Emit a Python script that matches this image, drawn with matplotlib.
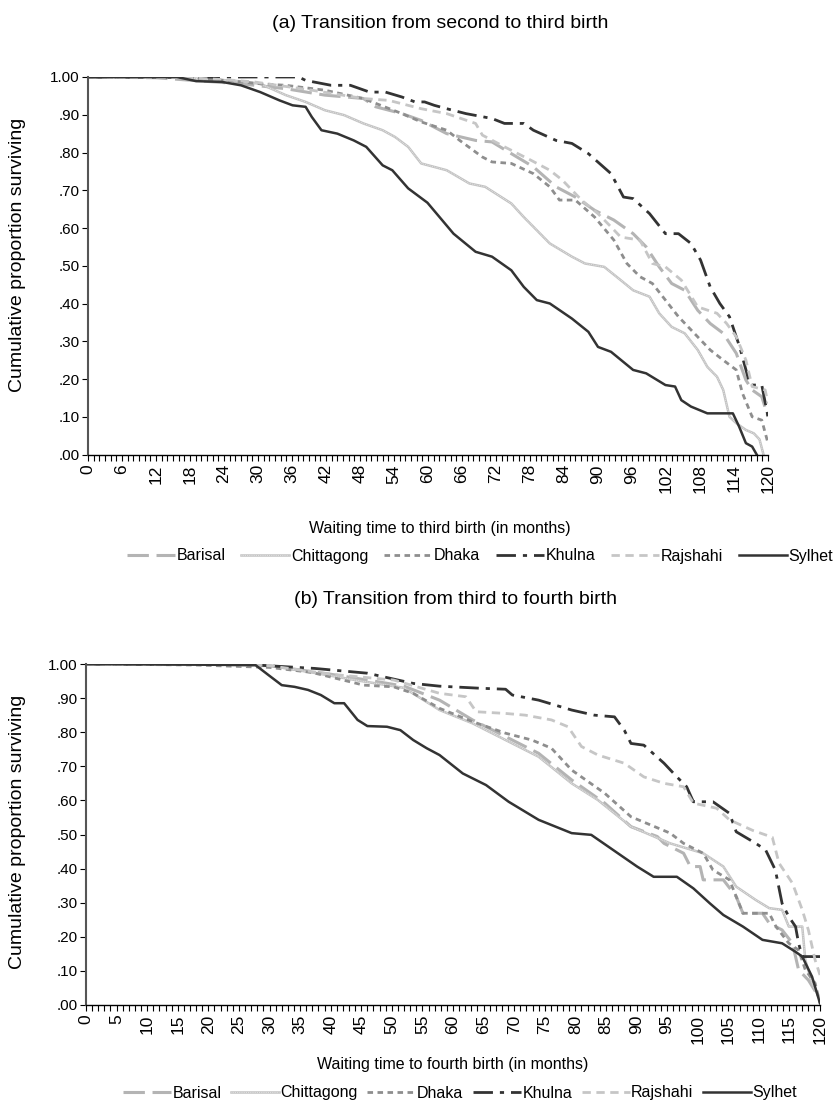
import numpy as np
import matplotlib.pyplot as plt
from matplotlib.ticker import MultipleLocator, FuncFormatter

plt.rcParams['font.family'] = ['Liberation Sans', 'DejaVu Sans']

regions = ['Barisal', 'Chittagong', 'Dhaka', 'Khulna', 'Rajshahi', 'Sylhet']

# (a) second -> third birth, months and survival
a_barisal_m = [0, 12, 18.5, 27, 34.9, 41.8, 48.6, 50.8, 55.4, 58.8, 63.3, 68.4, 71.3, 74.7, 78.6, 82.6, 86.0, 89.4, 92.8,
               96.2, 98.5, 100.8, 103.0, 105.3, 107.6, 109.8, 112.1, 114.4, 116.1, 117.2, 118.9, 120]
a_barisal_v = [1, .998, .991, .982, .969, .952, .943, .921, .903, .885, .850, .832, .828, .797, .762, .709, .682, .647, .621,
               .585, .550, .497, .453, .435, .382, .347, .321, .268, .197, .171, .153, .10]
a_chitt_m = [0, 15, 20, 26, 30.4, 34.9, 38.4, 41.8, 45.2, 48.6, 52.0, 54.2, 56.5, 58.8, 63.3, 67.3, 70.1, 74.7, 76.9, 81.5,
             85.4, 87.7, 91.1, 94.0, 96.2, 99.1, 100.8, 103.0, 105.3, 107.6, 109.3, 111.0, 112.1, 113.2, 114.4, 116.1, 117.5, 118.5, 119.2]
a_chitt_v = [1, 1, .995, .99, .982, .952, .934, .912, .899, .877, .859, .841, .815, .771, .753, .718, .709, .665, .629, .559,
             .524, .506, .497, .462, .435, .418, .374, .338, .321, .277, .232, .206, .171, .100, .083, .065, .056, .04, 0]
a_dhaka_m = [0, 18, 25, 30.4, 34.9, 41.8, 48.6, 50.8, 55.4, 58.8, 63.3, 65.6, 69.6, 71.3, 74.7, 78.6, 81.5, 83.2, 86.0, 89.4,
             92.8, 95.1, 97.4, 99.6, 101.9, 104.2, 107.0, 109.8, 112.1, 114.4, 115.5, 117.2, 118.9, 120]
a_dhaka_v = [1, .998, .99, .982, .978, .965, .943, .930, .903, .881, .859, .832, .788, .775, .771, .744, .709, .674, .674, .629,
             .568, .506, .471, .453, .409, .365, .321, .277, .250, .224, .162, .100, .091, .03]
a_khulna_m = [0, 37.2, 38.4, 42.9, 46.3, 49.7, 52.5, 55.4, 57.7, 59.4, 61.1, 63.3, 66.7, 71.3, 73.5, 76.9, 78.6, 82.6, 85.4,
              88.3, 92.3, 94.5, 96.2, 99.1, 101.9, 104.2, 106.4, 108.1, 109.8, 111.5, 113.2, 115.0, 116.6, 117.0, 118.9, 120]
a_khulna_v = [1, 1, .991, .978, .978, .960, .960, .947, .934, .934, .925, .916, .903, .890, .877, .877, .859, .832, .824,
              .797, .744, .682, .678, .638, .585, .585, .559, .515, .444, .400, .365, .285, .197, .184, .184, .10]
a_rajsh_m = [0, 18, 25, 29.3, 39.5, 48.6, 53.1, 58.8, 63.3, 68.4, 69.6, 73.5, 78.1, 81.5, 83.7, 87.1, 90.0, 92.3, 94.0,
             97.4, 99.6, 101.9, 104.7, 107.6, 111.0, 112.7, 114.4, 116.1, 117.2, 119.5, 120]
a_rajsh_v = [1, .998, .992, .987, .965, .943, .938, .916, .903, .877, .846, .815, .780, .753, .727, .674, .638, .603, .576,
             .568, .506, .497, .462, .391, .374, .347, .312, .250, .180, .171, .135]
a_sylhet_m = [0, 15.7, 19.1, 23.6, 27.0, 30.4, 33.8, 36.1, 38.4, 39.5, 41.2, 44.0, 46.9, 49.1, 52.0, 53.7, 56.5, 59.9, 64.5,
              68.4, 71.3, 74.7, 76.9, 79.2, 81.5, 85.4, 88.3, 90.0, 92.3, 96.2, 98.5, 101.9, 103.6, 104.7, 106.4, 109.3,
              113.8, 114.9, 116.1, 117.2, 118.0]
a_sylhet_v = [1, 1, .989, .987, .978, .960, .938, .925, .921, .894, .859, .850, .832, .815, .766, .753, .705, .667, .585,
              .537, .524, .488, .444, .409, .400, .360, .325, .285, .272, .224, .215, .184, .180, .144, .127, .109,
              .109, .074, .030, .021, 0]

# (b) third -> fourth birth
b_barisal_m = [0, 18, 30, 40, 47, 52, 57.8, 63.2, 68.6, 74.0, 79.4, 84.8, 89.1, 93.4, 94.5, 97.7, 98.8, 100.4, 100.9, 104.2,
               106.3, 107.4, 110.6, 111.7, 113.8, 115.5, 116.5, 118.1, 119.8]
b_barisal_v = [1, 1, .995, .97, .95, .935, .894, .836, .787, .738, .660, .592, .523, .494, .474, .445, .406, .406, .367, .367,
               .318, .269, .269, .240, .220, .181, .103, .073, .024]
b_chitt_m = [0, 20, 30, 37, 45, 52, 57.8, 63.2, 68.6, 74.0, 79.4, 83.7, 89.1, 95.5, 100.9, 104.2, 106.3, 109.5, 111.7, 113.8,
             114.9, 117.1, 117.6, 118.7, 119.8]
b_chitt_v = [1, 1, .995, .975, .95, .93, .865, .826, .777, .728, .650, .601, .523, .474, .445, .406, .347, .308, .284, .279,
             .230, .230, .132, .064, .024]
b_dhaka_m = [0, 18, 30, 37, 45.4, 50.3, 53.5, 57.8, 63.2, 68.6, 72.9, 76.1, 79.4, 84.8, 89.1, 95.5, 97.7, 100.9, 102.5, 105.2,
             107.4, 111.7, 112.8, 114.9, 116.5, 117.6, 119.2, 120]
b_dhaka_v = [1, .997, .99, .975, .938, .933, .914, .870, .831, .797, .777, .753, .689, .621, .552, .504, .474, .445, .396, .367,
             .269, .269, .230, .181, .161, .103, .064, .005]
b_khulna_m = [0, 25, 37.4, 46.0, 53.5, 57.8, 64.3, 68.6, 69.7, 74.0, 79.4, 83.1, 86.4, 88.0, 89.1, 91.2, 94.5, 96.6, 98.2,
              99.3, 102.5, 105.2, 106.3, 109.5, 111.1, 112.7, 113.8, 114.9, 116.0, 116.5, 117.1, 120]
b_khulna_v = [1, 1, .987, .973, .943, .935, .929, .926, .909, .894, .865, .850, .845, .806, .767, .762, .709, .669, .640,
              .596, .596, .562, .508, .474, .455, .396, .298, .259, .230, .181, .142, .142]
b_rajsh_m = [0, 20, 30, 40, 50.3, 57.8, 62.1, 63.8, 68.6, 71.8, 76.1, 78.8, 81.0, 83.7, 88.0, 91.2, 94.5, 97.7, 99.3, 103.1,
             105.2, 109.0, 112.2, 113.3, 115.5, 117.1, 118.1, 119.2, 120]
b_rajsh_v = [1, 1, .995, .97, .953, .914, .904, .860, .855, .850, .836, .816, .758, .733, .709, .669, .650, .640, .592, .577,
             .543, .512, .492, .416, .357, .279, .220, .132, .088]
b_sylhet_m = [0, 27.7, 29.8, 32.0, 34.1, 36.3, 38.4, 40.6, 42.2, 44.4, 46.0, 49.2, 51.4, 53.5, 55.7, 57.8, 61.6, 65.4, 69.1,
              74.0, 79.4, 82.6, 90.1, 92.8, 96.6, 99.3, 102.0, 104.2, 107.4, 110.6, 113.8, 116.0, 117.1, 118.7, 120]
b_sylhet_v = [1, .997, .968, .938, .933, .924, .909, .885, .885, .836, .818, .816, .806, .777, .753, .733, .679, .645, .596,
              .543, .504, .499, .406, .376, .376, .342, .298, .264, .230, .191, .181, .156, .142, .083, .005]

styles = {
    'Barisal':    dict(color='#b4b4b4', lw=2.2, dashes=[7, 2.5]),
    'Chittagong': dict(color='#c2c2c2', lw=1.8),
    'Dhaka':      dict(color='#8e8e8e', lw=2.0, dashes=[2, 1.6]),
    'Khulna':     dict(color='#333333', lw=2.0, dashes=[7, 2.5, 1.5, 2.5]),
    'Rajshahi':   dict(color='#c6c6c6', lw=2.0, dashes=[3, 2]),
    'Sylhet':     dict(color='#333333', lw=1.8),
}

W, H = 834, 1111
fig = plt.figure(figsize=(W / 100, H / 100), dpi=100)


def yfmt(v, pos):
    s = '%.2f' % v
    return s if v >= 1 else s[1:]


def panel(rect, series, step, title, xlabel, title_xy, xlabel_xy, leg_xy, colsp, ylab_y):
    l, t, r, b = rect
    ax = fig.add_axes([l / W, 1 - b / H, (r - l) / W, (b - t) / H])
    handles = []
    for name, (m, v) in zip(regions, series):
        ln, = ax.plot(m, v, **styles[name])
        if name == 'Chittagong':
            # textured light line: pale dotted core on top
            core, = ax.plot(m, v, color='#ececec', lw=0.6, dashes=[1, 1.2])
            handles.append((ln, core))
        else:
            handles.append(ln)
    ax.set_xlim(0, 120)
    ax.set_ylim(0, 1)
    ax.xaxis.set_major_locator(MultipleLocator(step))
    ax.xaxis.set_minor_locator(MultipleLocator(1))
    ax.yaxis.set_major_locator(MultipleLocator(0.1))
    ax.yaxis.set_major_formatter(FuncFormatter(yfmt))
    ax.tick_params(axis='x', which='both', length=4, width=0.8, direction='out', labelsize=12.5, labelrotation=90, pad=3)
    ax.tick_params(axis='y', length=4, width=0.8, direction='out', labelsize=11, pad=2)
    for s in ['top', 'right']:
        ax.spines[s].set_visible(False)
    ax.spines['left'].set_color('#555555')
    ax.spines['left'].set_linewidth(1.5)
    ax.spines['bottom'].set_linewidth(1.0)
    fig.text(18 / W, 1 - ylab_y / H, 'Cumulative proportion surviving', rotation=90,
             ha='center', va='center', fontsize=14)
    fig.text(title_xy[0] / W, 1 - title_xy[1] / H, title, ha='center', va='center', fontsize=14)
    fig.text(xlabel_xy[0] / W, 1 - xlabel_xy[1] / H, xlabel, ha='center', va='center', fontsize=11.5)
    fig.legend(handles, regions, loc='center', bbox_to_anchor=(leg_xy[0] / W, 1 - leg_xy[1] / H), ncol=6,
               frameon=False, fontsize=11.5, handlelength=3.0, handletextpad=0.1, columnspacing=colsp)
    return ax


panel((88, 77, 768, 454.5),
      [(a_barisal_m, a_barisal_v), (a_chitt_m, a_chitt_v), (a_dhaka_m, a_dhaka_v),
       (a_khulna_m, a_khulna_v), (a_rajsh_m, a_rajsh_v), (a_sylhet_m, a_sylhet_v)],
      6, '(a) Transition from second to third birth', 'Waiting time to third birth (in months)',
      (440, 23), (440, 528), (480, 556), 1.0, 255)

panel((86, 664, 820, 1005),
      [(b_barisal_m, b_barisal_v), (b_chitt_m, b_chitt_v), (b_dhaka_m, b_dhaka_v),
       (b_khulna_m, b_khulna_v), (b_rajsh_m, b_rajsh_v), (b_sylhet_m, b_sylhet_v)],
      5, '(b) Transition from third to fourth birth', 'Waiting time to fourth birth (in months)',
      (455, 600), (453, 1064), (460, 1093), 0.6, 832)

fig.savefig('out.png', dpi=100)
